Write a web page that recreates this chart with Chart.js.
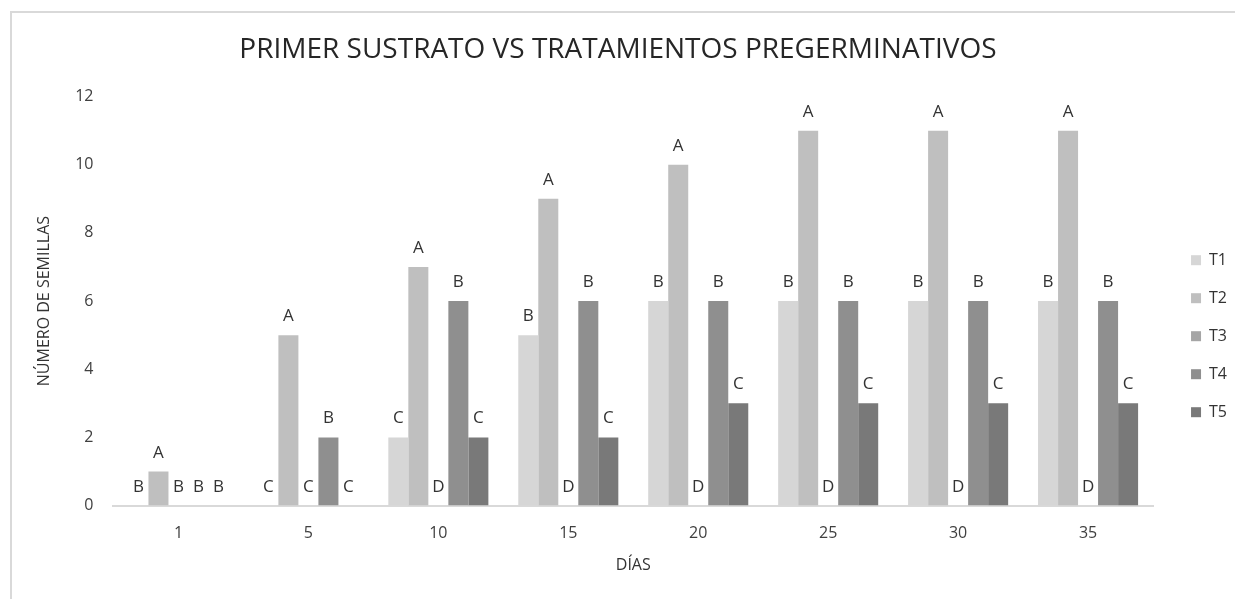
<!DOCTYPE html>
<html>
<head>
<meta charset="utf-8">
<script src="https://cdn.jsdelivr.net/npm/chart.js@4.4.1/dist/chart.umd.min.js"></script>
<style>
  html, body { margin: 0; padding: 0; background: #fff; }
  #wrap { position: relative; width: 1235px; height: 599px; overflow: hidden; }
  #frame { position: absolute; left: 10px; top: 11px; right: -5px; bottom: -5px;
           border-top: 2px solid #d9d9d9; border-left: 2px solid #d9d9d9; }
  canvas { position: absolute; left: 0; top: 0; }
</style>
</head>
<body>
<div id="wrap">
  <div id="frame"></div>
  <canvas id="chart" width="1235" height="599"></canvas>
</div>
<script>
const days = ['1', '5', '10', '15', '20', '25', '30', '35'];
const seriesNames = ['T1', 'T2', 'T3', 'T4', 'T5'];
const t1 = [0, 0, 2, 5, 6, 6, 6, 6];
const t2 = [1, 5, 7, 9, 10, 11, 11, 11];
const t3 = [0, 0, 0, 0, 0, 0, 0, 0];
const t4 = [0, 2, 6, 6, 6, 6, 6, 6];
const t5 = [0, 0, 2, 2, 3, 3, 3, 3];
const t1Letters = ['B', 'C', 'C', 'B', 'B', 'B', 'B', 'B'];
const t2Letters = ['A', 'A', 'A', 'A', 'A', 'A', 'A', 'A'];
const t3Letters = ['B', 'C', 'D', 'D', 'D', 'D', 'D', 'D'];
const t4Letters = ['B', 'B', 'B', 'B', 'B', 'B', 'B', 'B'];
const t5Letters = ['B', 'C', 'C', 'C', 'C', 'C', 'C', 'C'];
const yTicks = [0, 2, 4, 6, 8, 10, 12];

const colors = ['#d6d6d6', '#bfbfbf', '#a5a5a5', '#8f8f8f', '#797979'];
const values = [t1, t2, t3, t4, t5];
const letters = [t1Letters, t2Letters, t3Letters, t4Letters, t5Letters];

const FONT = 'Open Sans';

// letter labels above every bar, zero bars included
const letterPlugin = {
  id: 'letters',
  afterDatasetsDraw(chart) {
    const ctx = chart.ctx;
    ctx.save();
    ctx.font = '17px "' + FONT + '"';
    ctx.fillStyle = '#333333';
    ctx.textAlign = 'center';
    ctx.textBaseline = 'alphabetic';
    chart.data.datasets.forEach((ds, i) => {
      chart.getDatasetMeta(i).data.forEach((bar, j) => {
        ctx.fillText(letters[i][j], bar.x, bar.y - 14);
      });
    });
    ctx.restore();
  }
};

// small nudges so legend and title sit where the original has them
const boxNudge = {
  id: 'boxNudge',
  afterLayout(chart) {
    if (chart.legend) {
      chart.legend.left += 16;
      chart.legend.right += 16;
    }
    if (chart.titleBlock) {
      chart.titleBlock.left -= 10;
      chart.titleBlock.right -= 10;
    }
  }
};

new Chart(document.getElementById('chart'), {
  type: 'bar',
  data: {
    labels: days,
    datasets: seriesNames.map((name, i) => ({
      label: name,
      data: values[i],
      backgroundColor: colors[i],
      borderWidth: 0,
      barPercentage: 1,
      categoryPercentage: 0.77
    }))
  },
  options: {
    responsive: false,
    animation: false,
    layout: { padding: { left: 35, right: 14, top: 33, bottom: 24 } },
    plugins: {
      title: {
        display: true,
        text: 'PRIMER SUSTRATO VS TRATAMIENTOS PREGERMINATIVOS',
        color: '#262626',
        font: { family: FONT, size: 28, weight: 'normal' },
        padding: { top: 0, bottom: 30 }
      },
      legend: {
        position: 'right',
        title: { display: true, text: ' ', padding: { top: 0, bottom: 50 }, font: { size: 12 } },
        labels: {
          color: '#333333',
          font: { family: FONT, size: 16 },
          boxWidth: 10,
          boxHeight: 10,
          padding: 22
        }
      },
      tooltip: { enabled: false }
    },
    scales: {
      x: {
        grid: { display: false, drawTicks: false },
        border: { color: '#d9d9d9', width: 2 },
        ticks: { color: '#404040', font: { family: FONT, size: 16 }, padding: 18 },
        title: {
          display: true, text: 'DÍAS', color: '#333333',
          font: { family: FONT, size: 16 }, padding: { top: -5, bottom: 0 }
        }
      },
      y: {
        min: 0, max: 12,
        afterBuildTicks(axis) { axis.ticks = yTicks.map(v => ({ value: v })); },
        grid: { display: false, drawTicks: false },
        border: { display: false },
        ticks: { color: '#404040', font: { family: FONT, size: 16 }, padding: 20 },
        title: {
          display: true, text: 'NÚMERO DE SEMILLAS', color: '#333333',
          font: { family: FONT, size: 16 }, padding: { top: 0, bottom: 1 }
        }
      }
    }
  },
  plugins: [letterPlugin, boxNudge]
});
</script>
</body>
</html>
